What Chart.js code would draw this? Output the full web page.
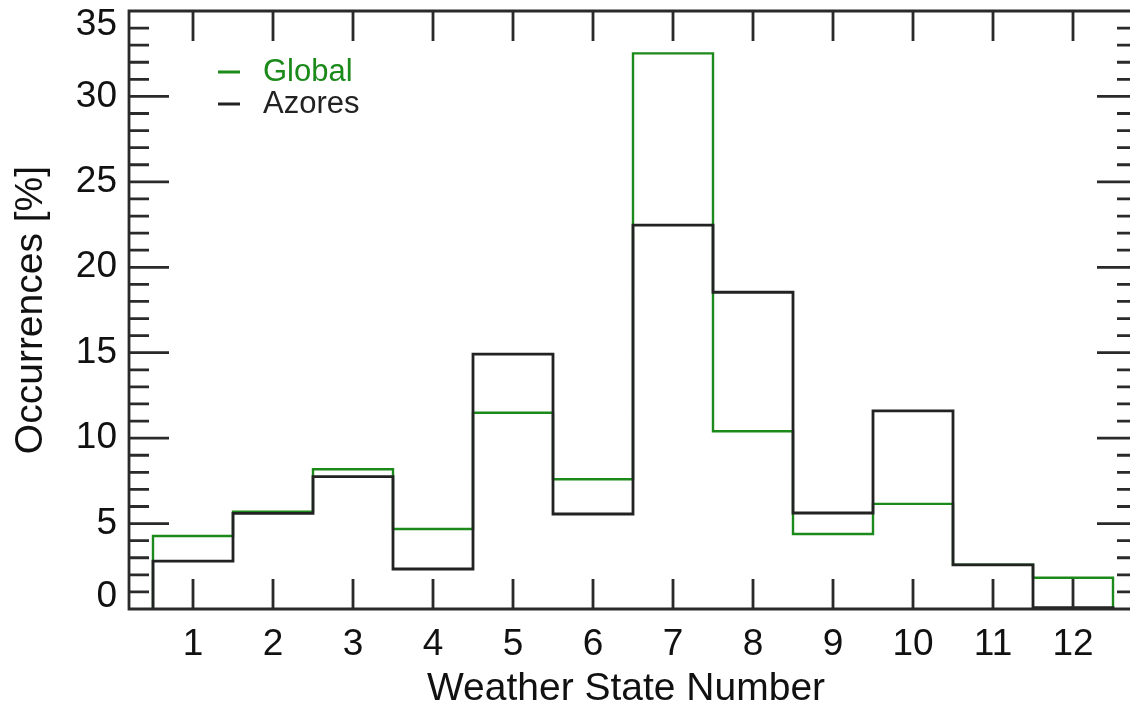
<!DOCTYPE html>
<html>
<head>
<meta charset="utf-8">
<script src="https://cdn.jsdelivr.net/npm/chart.js@4/dist/chart.umd.min.js"></script>
<style>
html, body { margin: 0; padding: 0; background: #fff; }
#wrap { width: 1130px; height: 704px; }
</style>
</head>
<body>
<div id="wrap"><canvas id="myChart" width="1130" height="704"></canvas></div>
<script>
// weather state numbers and occurrence (%) per state
const weatherStates = [1, 2, 3, 4, 5, 6, 7, 8, 9, 10, 11, 12];
const globalValues = [4.27, 5.7, 8.18, 4.68, 11.49, 7.59, 32.52, 10.4, 4.39, 6.15, 2.6, 1.83];
const azoresValues = [2.8, 5.6, 7.75, 2.34, 14.92, 5.56, 22.47, 18.54, 5.62, 11.6, 2.58, 0.08];

const xTickLabels = ['1', '2', '3', '4', '5', '6', '7', '8', '9', '10', '11', '12'];
const yTickLabels = [0, 5, 10, 15, 20, 25, 30, 35];

const xMin = 0.2;
const xAxisEnd = 12.8;      // right axis sits just past the canvas edge
const xVisibleMax = 12.7125;
const yMin = 0;
const yMax = 35;

const greenColor = '#1b8a1b';
const blackColor = '#222222';
const axisColor = '#2a2a2a';
const fontFamily = '"Liberation Sans", Arial, Helvetica, sans-serif';

// turn bin values into a step outline that drops to zero at both ends
function stepOutline(values) {
    const pts = [{ x: weatherStates[0] - 0.5, y: 0 }];
    values.forEach((v, i) => {
        pts.push({ x: weatherStates[i] - 0.5, y: v });
        pts.push({ x: weatherStates[i] + 0.5, y: v });
    });
    pts.push({ x: weatherStates[weatherStates.length - 1] + 0.5, y: 0 });
    return pts;
}

const idlAxes = {
    id: 'idlAxes',
    afterDraw(chart) {
        const ctx = chart.ctx;
        const xs = chart.scales.x;
        const ys = chart.scales.y;
        const left = xs.getPixelForValue(xMin);
        const right = xs.getPixelForValue(xAxisEnd);
        const top = ys.getPixelForValue(yMax);
        const bottom = ys.getPixelForValue(yMin);

        ctx.save();
        ctx.strokeStyle = axisColor;
        ctx.lineWidth = 2.8;
        ctx.lineCap = 'butt';
        ctx.beginPath();
        ctx.rect(left, top, right - left, bottom - top);

        // x ticks, bottom and top
        weatherStates.forEach(v => {
            const px = xs.getPixelForValue(v);
            ctx.moveTo(px, bottom);
            ctx.lineTo(px, bottom - 30);
            ctx.moveTo(px, top);
            ctx.lineTo(px, top + 30);
        });

        // y ticks, major every 5, minor every 1, both sides
        for (let v = yMin + 1; v < yMax; v++) {
            const py = ys.getPixelForValue(v);
            const len = v % 5 === 0 ? 40 : 20;
            ctx.moveTo(left, py);
            ctx.lineTo(left + len, py);
            ctx.moveTo(right, py);
            ctx.lineTo(right - len, py);
        }
        ctx.stroke();

        ctx.fillStyle = '#111';
        ctx.font = '37px ' + fontFamily;

        ctx.textAlign = 'center';
        ctx.textBaseline = 'middle';
        weatherStates.forEach((v, i) => {
            ctx.fillText(xTickLabels[i], xs.getPixelForValue(v), 645);
        });

        ctx.textAlign = 'right';
        yTickLabels.forEach(v => {
            let py = ys.getPixelForValue(v);
            py = Math.min(Math.max(py, top + 14), bottom - 12);
            ctx.fillText(String(v), left - 12, py);
        });

        ctx.font = '39px ' + fontFamily;
        ctx.textAlign = 'center';
        ctx.fillText('Weather State Number', (left + right) / 2 - 7, 689);

        ctx.save();
        ctx.translate(31, (top + bottom) / 2);
        ctx.rotate(-Math.PI / 2);
        ctx.fillText('Occurrences [%]', 0, 0);
        ctx.restore();

        // legend
        const legendItems = [
            { text: 'Global', color: greenColor, y: 72 },
            { text: 'Azores', color: blackColor, y: 104 }
        ];
        ctx.font = '31px ' + fontFamily;
        ctx.textAlign = 'left';
        legendItems.forEach(item => {
            ctx.strokeStyle = item.color;
            ctx.lineWidth = 3;
            ctx.beginPath();
            ctx.moveTo(218, item.y);
            ctx.lineTo(240, item.y);
            ctx.stroke();
            ctx.fillStyle = item.color;
            ctx.fillText(item.text, 263, item.y);
        });

        ctx.restore();
    }
};

const ctx = document.getElementById('myChart').getContext('2d');
const chart = new Chart(ctx, {
    type: 'line',
    data: {
        datasets: [{
            label: 'Global',
            data: stepOutline(globalValues),
            borderColor: greenColor,
            borderWidth: 2.4,
            pointRadius: 0,
            tension: 0,
            fill: false,
            order: 1,
            clip: false
        }, {
            label: 'Azores',
            data: stepOutline(azoresValues),
            borderColor: blackColor,
            borderWidth: 2.8,
            pointRadius: 0,
            tension: 0,
            fill: false,
            order: 0,
            clip: false
        }]
    },
    options: {
        responsive: false,
        animation: false,
        layout: {
            padding: { left: 129, top: 11, right: 0, bottom: 95 }
        },
        scales: {
            x: { type: 'linear', min: xMin, max: xVisibleMax, display: false },
            y: { type: 'linear', min: yMin, max: yMax, display: false }
        },
        plugins: {
            legend: { display: false },
            tooltip: { enabled: false }
        }
    },
    plugins: [idlAxes]
});
</script>
</body>
</html>
